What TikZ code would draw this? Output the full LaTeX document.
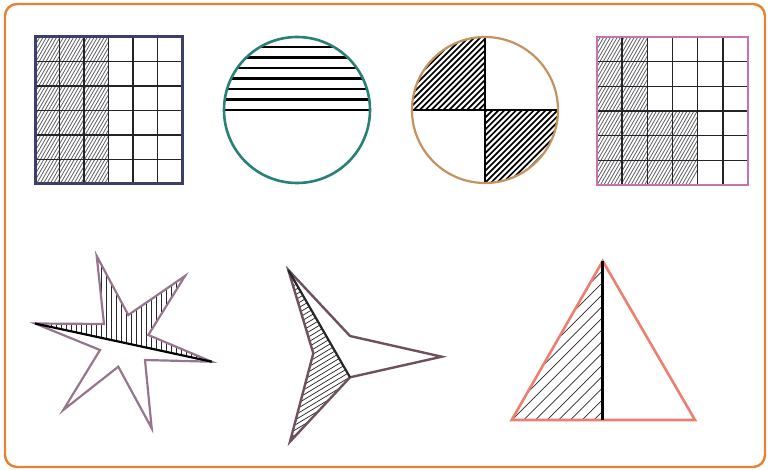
\documentclass[tikz,border=0pt]{standalone}
\definecolor{frameor}{RGB}{232,130,50}
\definecolor{navyb}{RGB}{60,64,105}
\definecolor{gridc}{RGB}{35,35,40}
\definecolor{hatchg}{RGB}{95,95,100}
\definecolor{tealc}{RGB}{40,128,118}
\definecolor{tanc}{RGB}{196,146,96}
\definecolor{pinkc}{RGB}{200,115,170}
\definecolor{starc}{RGB}{150,118,140}
\definecolor{arrowc}{RGB}{110,80,95}
\definecolor{salmonc}{RGB}{236,128,112}
\tikzset{
  gridline/.style={gridc, line width=1.5pt},
  finehatch/.style={hatchg, line width=0.8pt},
  hatchline/.style={black!85, line width=0.7pt},
  boldline/.style={black, line width=2.8pt},
}
\begin{document}
\begin{tikzpicture}[x=1pt,y=-1pt]
\useasboundingbox (0,0) rectangle (768,470);
\draw[frameor, line width=2.4pt, rounded corners=12pt] (5,4) rectangle (765,467);

% ---------- Square 1 ----------
\begin{scope}
  \clip (35,37) rectangle (108.5,184);
  \foreach \k in {0,...,48} \draw[finehatch] ({-52+\k*3.4},184) -- ++(85,-147);
\end{scope}
\foreach \i in {1,...,5} {
  \draw[gridline] ({35+\i*24.5},37) -- ({35+\i*24.5},184);
  \draw[gridline] (35,{37+\i*24.5}) -- (182,{37+\i*24.5});
}
\draw[navyb, line width=3pt] (35,37) rectangle (182,184);

% ---------- Circle 1 ----------
\begin{scope}
  \clip (297,110) circle (73);
  \foreach \k in {0,...,6} \draw[black, line width=2.6pt] (220,{110-\k*10.5}) -- (375,{110-\k*10.5});
\end{scope}
\draw[tealc, line width=2.6pt] (297,110) circle (73);

% ---------- Circle 2 ----------
\begin{scope}
  \clip (485,110) circle (73);
  \begin{scope}
    \clip (410,35) rectangle (485,110);
    \foreach \k in {0,...,42} \draw[black, line width=1.7pt] ({337+\k*5.9},110) -- ++(80,-80);
  \end{scope}
  \begin{scope}
    \clip (485,110) rectangle (560,185);
    \foreach \k in {0,...,42} \draw[black, line width=1.7pt] ({412+\k*5.9},185) -- ++(80,-80);
  \end{scope}
\end{scope}
\draw[boldline] (412,110) -- (558,110);
\draw[boldline] (485,37) -- (485,183);
\draw[tanc, line width=2.2pt] (485,110) circle (73);

% ---------- Square 2 ----------
\begin{scope}
  \clip (597,37) -- (647.33,37) -- (647.33,111) -- (697.67,111) -- (697.67,185) -- (597,185) -- cycle;
  \foreach \k in {0,...,52} \draw[finehatch] ({512+\k*3.4},185) -- ++(85,-148);
\end{scope}
\foreach \i in {1,...,5} {
  \draw[gridline] ({597+\i*25.167},37) -- ({597+\i*25.167},185);
  \draw[gridline] (597,{37+\i*24.667}) -- (748,{37+\i*24.667});
}
\draw[pinkc, line width=2.8pt] (597,37) rectangle (748,185);

% ---------- Star ----------
\coordinate (sL) at (35,323.5);
\coordinate (s1) at (104,324);
\coordinate (sT) at (96.7,256);
\coordinate (s2) at (128.3,315);
\coordinate (sU) at (185,276);
\coordinate (s3) at (148.3,335);
\coordinate (sR) at (211.7,361.7);
\coordinate (s4) at (145,360);
\coordinate (sB) at (151.7,428.3);
\coordinate (s5) at (118.3,366.7);
\coordinate (sD) at (63.3,410);
\coordinate (s6) at (100,350);
\begin{scope}
  \clip (sL) -- (s1) -- (sT) -- (s2) -- (sU) -- (s3) -- (sR) -- cycle;
  \foreach \k in {0,...,36} \draw[hatchline] ({36+\k*5},250) -- ({36+\k*5},370);
\end{scope}
\draw[starc, line width=2.2pt, line join=miter]
  (sL) -- (s1) -- (sT) -- (s2) -- (sU) -- (s3) -- (sR) -- (s4) -- (sB) -- (s5) -- (sD) -- (s6) -- cycle;
\draw[black, line width=2.2pt] (sL) -- (sR);

% ---------- Arrow shape ----------
\coordinate (aT) at (288.3,270);
\coordinate (a1) at (350,336);
\coordinate (aR) at (441.7,356.7);
\coordinate (a2) at (350,377.3);
\coordinate (aB) at (290,441.7);
\coordinate (a3) at (313.3,353.3);
\begin{scope}
  \clip (aT) -- (a2) -- (aB) -- (a3) -- cycle;
  \foreach \k in {0,...,60} \draw[hatchline] (270,{280+\k*5}) -- ++(100,-60);
\end{scope}
\draw[arrowc, line width=2.4pt, line join=miter]
  (aT) -- (a1) -- (aR) -- (a2) -- (aB) -- (a3) -- cycle;
\draw[black!85, line width=2.2pt] (aT) -- (a2);

% ---------- Triangle ----------
\coordinate (tA) at (602.7,261);
\coordinate (tL) at (511.7,420);
\coordinate (tR) at (695,420);
\coordinate (tM) at (602.7,420);
\begin{scope}
  \clip (tA) -- (tL) -- (tM) -- cycle;
  \foreach \k in {0,...,20} \draw[hatchline] ({430+\k*11.7},420) -- ++(180,-180);
\end{scope}
\draw[salmonc, line width=2.6pt, line join=miter] (tA) -- (tL) -- (tR) -- cycle;
\draw[black, line width=3pt] (tA) -- (tM);
\end{tikzpicture}
\end{document}
